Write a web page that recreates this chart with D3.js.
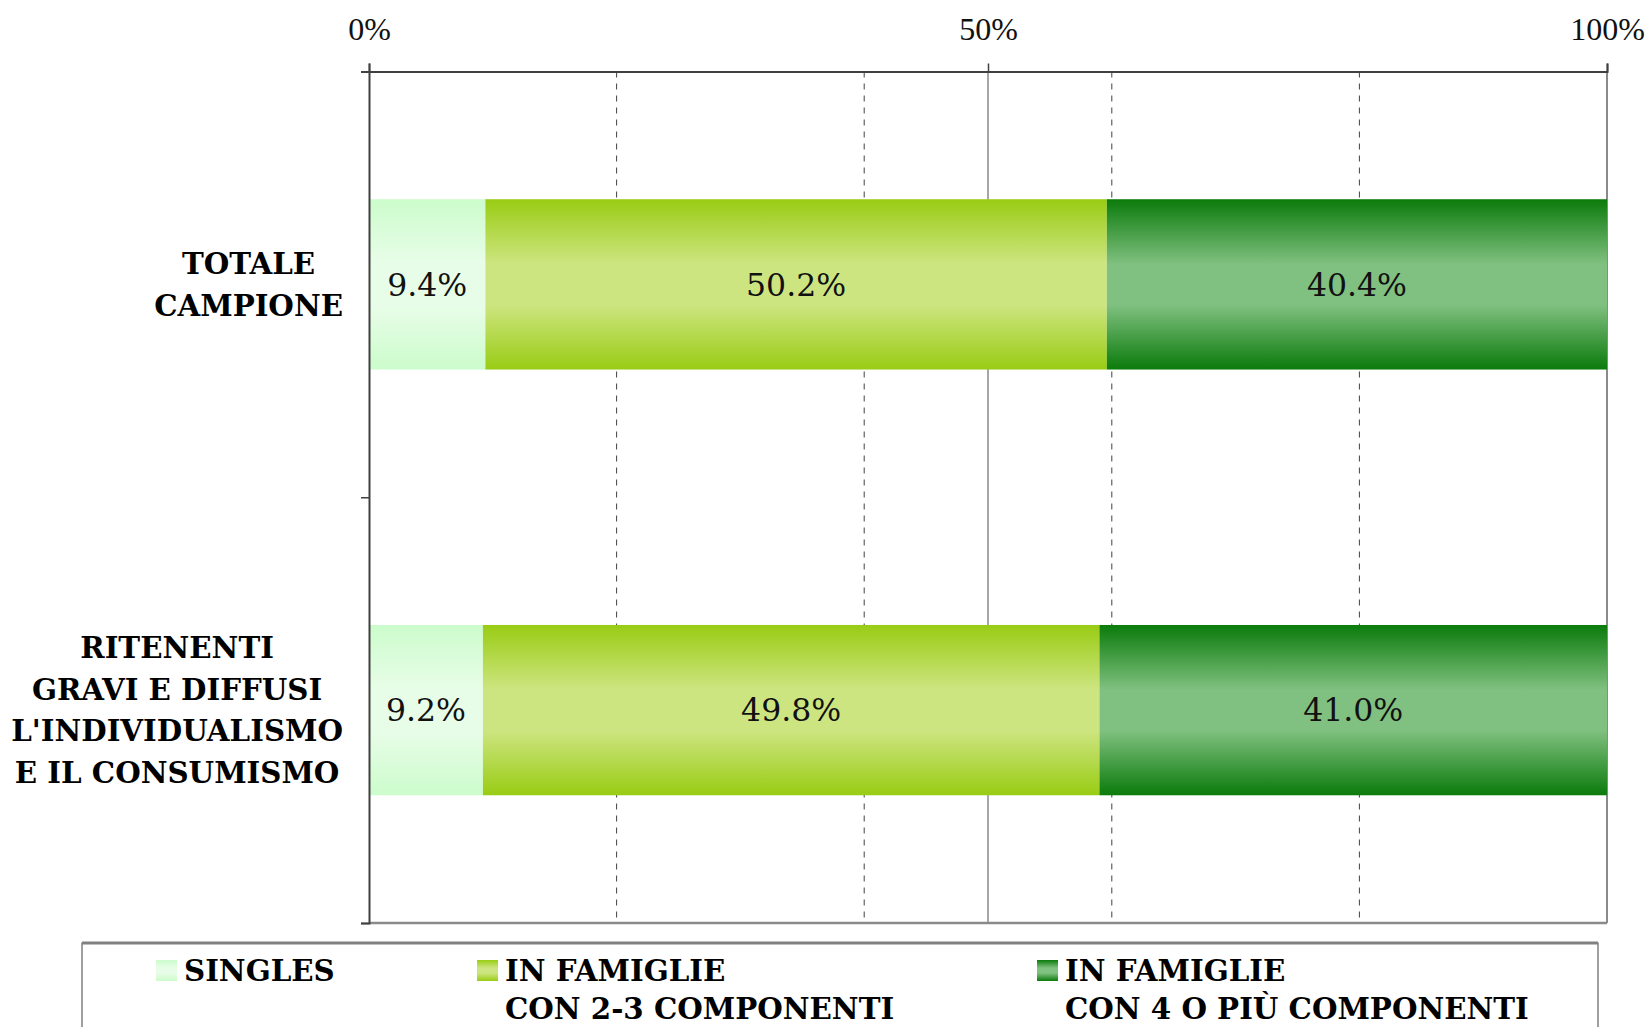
<!DOCTYPE html>
<html>
<head>
<meta charset="utf-8">
<script src="https://cdn.jsdelivr.net/npm/d3@7"></script>
<style>
  body { margin: 0; background: #fff; }
</style>
</head>
<body>
<div id="chart"></div>
<script>
// dati
const categories = ["TOTALE CAMPIONE", "RITENENTI GRAVI E DIFFUSI"];
const categoryLines = [
    ["TOTALE", "CAMPIONE"],
    ["RITENENTI", "GRAVI E DIFFUSI", "L'INDIVIDUALISMO", "E IL CONSUMISMO"]
];
const seriesNames = ["SINGLES", "IN FAMIGLIE CON 2-3 COMPONENTI", "IN FAMIGLIE CON 4 O PIÙ COMPONENTI"];
const legendLines = [["SINGLES"], ["IN FAMIGLIE", "CON 2-3 COMPONENTI"], ["IN FAMIGLIE", "CON 4 O PIÙ COMPONENTI"]];
const singles = [9.4, 9.2];
const famiglie23 = [50.2, 49.8];
const famiglie4 = [40.4, 41.0];
const xTicks = [0, 50, 100];
const xDashed = [20, 40, 60, 80];

let width = 1650;
let height = 1027;
let margin = { top: 71.5, left: 369, right: 43, bottom: 104 };

let svg = d3.select("#chart")
    .append("svg")
    .attr("width", width)
    .attr("height", height);

// gradienti verticali (scuro ai bordi, chiaro al centro)
const gradColors = [
    ["#ccfccc", "#e8fde8"],
    ["#99cc14", "#cde580"],
    ["#0b7b0b", "#80c080"]
];
let defs = svg.append("defs");
gradColors.forEach(function (c, i) {
    let g = defs.append("linearGradient")
        .attr("id", "grad" + i)
        .attr("x1", 0).attr("y1", 0).attr("x2", 0).attr("y2", 1);
    g.append("stop").attr("offset", "0%").attr("stop-color", c[0]);
    g.append("stop").attr("offset", "38%").attr("stop-color", c[1]);
    g.append("stop").attr("offset", "62%").attr("stop-color", c[1]);
    g.append("stop").attr("offset", "100%").attr("stop-color", c[0]);
});

let x = d3.scaleLinear()
    .domain([0, 100])
    .range([margin.left, width - margin.right]);

let y = d3.scaleBand()
    .domain(categories)
    .range([margin.top, height - margin.bottom])
    .paddingInner(0)
    .paddingOuter(0);

let yEdge = d3.scaleLinear()
    .domain([0, categories.length])
    .range([margin.top, height - margin.bottom]);

// griglia tratteggiata
svg.selectAll(".dash")
    .data(xDashed)
    .enter()
    .append("line")
    .attr("x1", d => x(d)).attr("x2", d => x(d))
    .attr("y1", margin.top).attr("y2", height - margin.bottom)
    .attr("stroke", "#404040")
    .attr("stroke-width", 1)
    .attr("stroke-dasharray", "6,6");

// griglia principale (50%) e bordi
svg.append("line")
    .attr("x1", x(50)).attr("x2", x(50))
    .attr("y1", margin.top).attr("y2", height - margin.bottom)
    .attr("stroke", "#8a8a8a").attr("stroke-width", 1.5);
svg.append("line")
    .attr("x1", x(100)).attr("x2", x(100))
    .attr("y1", margin.top).attr("y2", height - margin.bottom)
    .attr("stroke", "#8a8a8a").attr("stroke-width", 2);
svg.append("line")
    .attr("x1", x(0)).attr("x2", x(100))
    .attr("y1", height - margin.bottom).attr("y2", height - margin.bottom)
    .attr("stroke", "#8a8a8a").attr("stroke-width", 2.5);

// barre impilate
let stackData = categories.map(function (c, i) {
    return { cat: c, vals: [singles[i], famiglie23[i], famiglie4[i]] };
});
let barH = y.bandwidth() * 0.4;

stackData.forEach(function (d) {
    let start = 0;
    let segs = d.vals.map(function (v, k) {
        let s = { k: k, x0: start, x1: start + v, v: v };
        start += v;
        return s;
    });
    let g = svg.append("g");
    g.selectAll("rect")
        .data(segs)
        .enter()
        .append("rect")
        .attr("x", s => x(s.x0))
        .attr("y", y(d.cat) + (y.bandwidth() - barH) / 2)
        .attr("width", s => x(s.x1) - x(s.x0))
        .attr("height", barH)
        .attr("fill", s => "url(#grad" + s.k + ")");
    g.selectAll("text")
        .data(segs)
        .enter()
        .append("text")
        .attr("x", s => (x(s.x0) + x(s.x1)) / 2)
        .attr("y", y(d.cat) + y.bandwidth() / 2)
        .attr("dy", "0.36em")
        .attr("text-anchor", "middle")
        .attr("font-family", "DejaVu Serif")
        .attr("font-size", "31.5px")
        .attr("font-weight", 300)
        .attr("fill", "#111")
        .text(s => s.v.toFixed(1) + "%");
});

// asse superiore
let xAxis = d3.axisTop(x)
    .tickValues(xTicks)
    .tickFormat(d => d + "%")
    .tickSize(8)
    .tickPadding(24);
let gx = svg.append("g")
    .attr("transform", "translate(0," + margin.top + ")")
    .call(xAxis);
gx.select(".domain").attr("stroke", "#404040").attr("stroke-width", 2);
gx.selectAll(".tick line").attr("stroke", "#404040").attr("stroke-width", 1.5);
gx.selectAll(".tick text")
    .attr("font-family", "Liberation Serif")
    .attr("font-size", "32px")
    .attr("fill", "#111");

// asse sinistro
let yAxis = d3.axisLeft(yEdge)
    .tickValues(d3.range(categories.length + 1))
    .tickFormat("")
    .tickSize(8);
let gy = svg.append("g")
    .attr("transform", "translate(" + margin.left + ",0)")
    .call(yAxis);
gy.select(".domain").attr("stroke", "#404040").attr("stroke-width", 2);
gy.selectAll(".tick line").attr("stroke", "#404040").attr("stroke-width", 1.5);

// etichette categorie (blocco centrato, bordo destro a 343)
let labelRight = 343;
let lineH = 41.5;
categoryLines.forEach(function (lines, i) {
    let cy = y(categories[i]) + y.bandwidth() / 2;
    let g = svg.append("g");
    let t = g.selectAll("text")
        .data(lines)
        .enter()
        .append("text")
        .attr("y", (d, j) => cy + (j - (lines.length - 1) / 2) * lineH)
        .attr("dy", "0.36em")
        .attr("text-anchor", "middle")
        .attr("font-family", "DejaVu Serif")
        .attr("font-weight", "bold")
        .attr("font-size", "29.3px")
        .attr("fill", "#000")
        .text(d => d);
    let maxW = d3.max(t.nodes(), n => n.getComputedTextLength());
    t.attr("x", labelRight - maxW / 2);
});

// legenda
let legendBox = { x0: 82, x1: 1598, y0: 943 };
svg.append("rect")
    .attr("x", legendBox.x0)
    .attr("y", legendBox.y0)
    .attr("width", legendBox.x1 - legendBox.x0)
    .attr("height", 120)
    .attr("fill", "#fff")
    .attr("stroke", "#404040")
    .attr("stroke-width", 1);
svg.append("line")
    .attr("x1", legendBox.x0).attr("x2", legendBox.x1)
    .attr("y1", legendBox.y0).attr("y2", legendBox.y0)
    .attr("stroke", "#808080").attr("stroke-width", 3);

let legendX = [156, 477, 1037];
let legendItems = svg.selectAll(".leg")
    .data(seriesNames)
    .enter()
    .append("g")
    .attr("transform", (d, i) => "translate(" + legendX[i] + ",960)");
legendItems.append("rect")
    .attr("width", 21)
    .attr("height", 21)
    .attr("fill", (d, i) => "url(#grad" + i + ")");
legendItems.each(function (d, i) {
    d3.select(this).selectAll("text")
        .data(legendLines[i])
        .enter()
        .append("text")
        .attr("x", 28)
        .attr("y", (l, j) => 10 + j * 38)
        .attr("dy", "0.36em")
        .attr("font-family", "DejaVu Serif")
        .attr("font-weight", "bold")
        .attr("font-size", "29.3px")
        .attr("fill", "#000")
        .text(l => l);
});
</script>
</body>
</html>
